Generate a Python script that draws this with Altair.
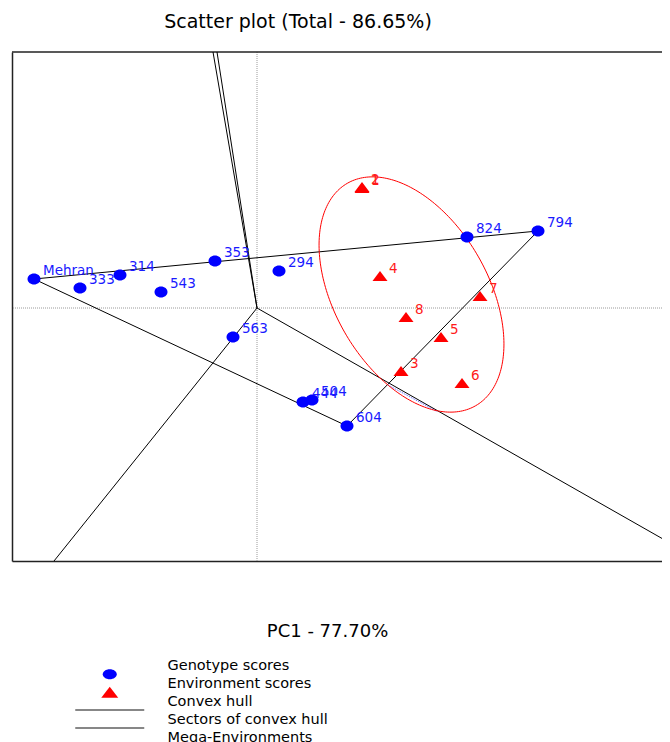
import math
import numpy as np
import pandas as pd
import altair as alt

FONT = "DejaVu Sans"

# ---- data (PC1, PC2 scores) ----
geno_names = ["Mehran", "333", "314", "543", "353", "294", "563", "444", "504", "604", "824", "794"]
geno_pc1 = [-5.575, -4.425, -3.425, -2.40, -1.05, 0.55, -0.60, 1.15, 1.375, 2.25, 5.25, 7.025]
geno_pc2 = [0.725, 0.50, 0.825, 0.40, 1.175, 0.925, -0.725, -2.35, -2.30, -2.95, 1.775, 1.925]

env_names = ["1", "2", "4", "7", "8", "5", "3", "6"]
env_pc1 = [2.625, 2.625, 3.075, 5.575, 3.725, 4.60, 3.60, 5.125]
env_pc2 = [3.00, 3.025, 0.80, 0.30, -0.225, -0.725, -1.575, -1.875]

hull_vertices = ["Mehran", "794", "604", "Mehran"]

sector_end_pc1 = [-1.10, -1.00, -5.075, 10.125]
sector_end_pc2 = [6.40, 6.40, -6.325, -5.761]

mega_pc1 = [3.275, 4.50]
mega_pc2 = [-1.925, -2.5875]

ellipse_center = (3.8625, 0.3375)
ellipse_axes = (3.21, 1.92)
ellipse_angle_deg = -60.0

legend_labels = ["Genotype scores", "Environment scores", "Convex hull",
                 "Sectors of convex hull", "Mega-Environments"]

X_DOMAIN = [-6.125, 10.125]
Y_DOMAIN = [-6.325, 6.40]

# ---- tables ----
geno = pd.DataFrame({"name": geno_names, "pc1": geno_pc1, "pc2": geno_pc2})
env = pd.DataFrame({"name": env_names, "pc1": env_pc1, "pc2": env_pc2})
lookup = dict(zip(geno_names, zip(geno_pc1, geno_pc2)))
hull = pd.DataFrame({
    "i": list(range(len(hull_vertices))),
    "pc1": [lookup[n][0] for n in hull_vertices],
    "pc2": [lookup[n][1] for n in hull_vertices],
})
sectors = pd.DataFrame({"x0": [0.0] * 4, "y0": [0.0] * 4,
                        "x1": sector_end_pc1, "y1": sector_end_pc2})
mega = pd.DataFrame({"i": [0, 1], "pc1": mega_pc1, "pc2": mega_pc2})

t = np.linspace(0, 2 * np.pi, 241)
phi = math.radians(ellipse_angle_deg)
a, b = ellipse_axes
cx, cy = ellipse_center
ell = pd.DataFrame({
    "i": np.arange(len(t)),
    "pc1": cx + a * np.cos(t) * np.cos(phi) - b * np.sin(t) * np.sin(phi),
    "pc2": cy + a * np.cos(t) * np.sin(phi) + b * np.sin(t) * np.cos(phi),
})
zero = pd.DataFrame({"v": [0.0]})
top_edge = pd.DataFrame({"v": [Y_DOMAIN[1]]})
leg = pd.DataFrame({"entry": legend_labels, "pc1": [100.0] * 5, "pc2": [0.0] * 5})

# ---- scales / axes ----
xs = alt.Scale(domain=X_DOMAIN, nice=False, zero=False)
ys = alt.Scale(domain=Y_DOMAIN, nice=False, zero=False)
xaxis = alt.Axis(domain=True, domainColor="#222222", domainWidth=1.5,
                 ticks=False, labels=False, grid=False,
                 title="PC1 - 77.70%", titleFont=FONT, titleFontSize=18,
                 titleFontWeight="normal", titleColor="black",
                 titleX=315, titleY=75, titleAlign="center",
                 titleBaseline="alphabetic", titleAngle=0)
yaxis = alt.Axis(domain=True, domainColor="#222222", domainWidth=1.5,
                 ticks=False, labels=False, grid=False, title="")


def X(f):
    return alt.X(f, type="quantitative", scale=xs, axis=xaxis)


def Y(f):
    return alt.Y(f, type="quantitative", scale=ys, axis=yaxis)


# shapes (custom paths, unit = sqrt(size)/2 px)
dot_path = "M-0.929,0A0.929,0.786 0 1,0 0.929,0A0.929,0.786 0 1,0 -0.929,0Z"
tri_path = "M0,-0.714L1.071,0.714L-1.071,0.714Z"

zero_v = alt.Chart(zero).mark_rule(color="#9a9a9a", strokeDash=[1, 1], strokeWidth=1).encode(
    x=X("v"))
zero_h = alt.Chart(zero).mark_rule(color="#9a9a9a", strokeDash=[1, 1], strokeWidth=1).encode(
    y=Y("v"))
top_rule = alt.Chart(top_edge).mark_rule(color="#222222", strokeWidth=1.5).encode(y=Y("v"))

sector_layer = alt.Chart(sectors).mark_rule(color="black", strokeWidth=1).encode(
    x=X("x0"), y=Y("y0"), x2="x1", y2="y1")

hull_layer = alt.Chart(hull).mark_line(color="black", strokeWidth=1).encode(
    x=X("pc1"), y=Y("pc2"), order="i:Q")

ell_layer = alt.Chart(ell).mark_line(color="#ff0000", strokeWidth=1).encode(
    x=X("pc1"), y=Y("pc2"), order="i:Q")

mega_layer = alt.Chart(mega).mark_line(color="#5a5aff", strokeWidth=1, strokeDash=[1, 1]).encode(
    x=X("pc1"), y=Y("pc2"), order="i:Q")

geno_pts = alt.Chart(geno).mark_point(filled=True, shape=dot_path, size=196,
                                      color="#0000ff", opacity=1).encode(
    x=X("pc1"), y=Y("pc2"))
env_pts = alt.Chart(env).mark_point(filled=True, shape=tri_path, size=196,
                                    color="#ff0000", opacity=1).encode(
    x=X("pc1"), y=Y("pc2"))

geno_txt = alt.Chart(geno).mark_text(align="left", baseline="alphabetic", dx=9, dy=-4,
                                     font=FONT, fontSize=13.5, color="#1a1aff").encode(
    x=X("pc1"), y=Y("pc2"), text="name:N")
env_txt = alt.Chart(env).mark_text(align="left", baseline="alphabetic", dx=9, dy=-3,
                                   font=FONT, fontSize=13.5, color="#ff1a1a").encode(
    x=X("pc1"), y=Y("pc2"), text="name:N")

# legend (a real legend fed by a clipped, off-domain dummy layer)
ext = "M0,-0.3M0,1.36"  # common invisible extent so all rows have equal height
leg_paths = [
    ext + "M-1,0.571A1,0.714 0 1,0 1,0.571A1,0.714 0 1,0 -1,0.571Z",
    ext + "M0,-0.214L1.214,1.357L-1.214,1.357Z",
    ext + "M-4.929,0.50H4.929V0.643H-4.929Z",
    ext + "M-4.929,0.50H4.929V0.643H-4.929Z",
    ext + "M-4.929,0.50H4.929V0.643H-4.929Z",
]
leg_colors = ["#0000ff", "#ff0000", "#111111", "#111111", "#5a5aff"]
legend_spec = alt.Legend(orient="none", legendX=90.5, legendY=611, title=None,
                         labelFont=FONT, labelFontSize=14.5, labelColor="black",
                         labelBaseline="alphabetic", labelOffset=50.5, labelLimit=400,
                         symbolSize=196, symbolStrokeWidth=0, symbolOpacity=1,
                         rowPadding=-4.1, padding=0)
legend_layer = alt.Chart(leg).mark_point(filled=True, clip=True, size=196, opacity=1).encode(
    x=X("pc1"), y=Y("pc2"),
    shape=alt.Shape("entry:N", scale=alt.Scale(domain=legend_labels, range=leg_paths),
                    legend=legend_spec),
    color=alt.Color("entry:N", scale=alt.Scale(domain=legend_labels, range=leg_colors),
                    legend=legend_spec),
)

chart = alt.layer(
    zero_v, zero_h, top_rule, sector_layer, hull_layer, mega_layer, ell_layer,
    geno_pts, env_pts, geno_txt, env_txt, legend_layer,
).properties(
    width=650, height=509,
    autosize=alt.AutoSizeParams(type="none"),
    padding={"left": 4, "top": 44, "right": 0, "bottom": 190},
    background="white",
    title=alt.TitleParams("Scatter plot (Total - 86.65%)", font=FONT, fontSize=19,
                          fontWeight="normal", color="black", anchor="middle",
                          dx=-39, baseline="alphabetic", offset=4),
).configure_view(strokeWidth=0)

chart.save("out.html", embed_options={"renderer": "svg", "actions": False})
